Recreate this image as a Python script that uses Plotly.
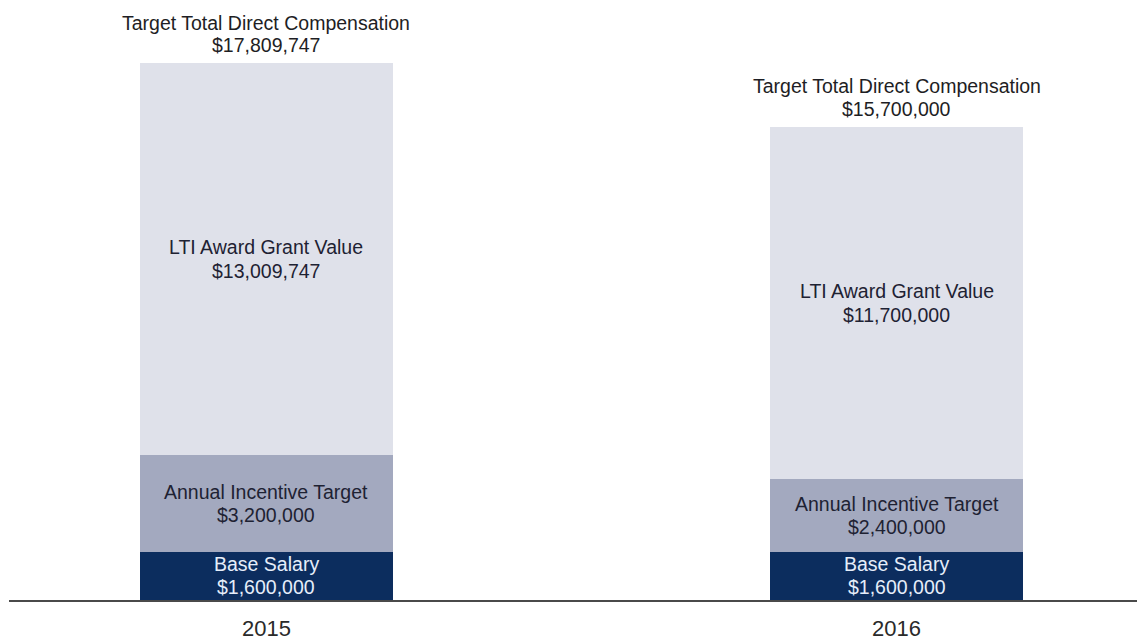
import plotly.graph_objects as go

years = ["2015", "2016"]
base_salary = [1600000, 1600000]
annual_incentive = [3200000, 2400000]
lti_award = [13009747, 11700000]

segment_names = ["Base Salary", "Annual Incentive Target", "LTI Award Grant Value"]
segment_colors = ["#0c2d5e", "#a3a9bf", "#dfe1ea"]
segment_text_colors = ["#e6eefa", "#1e2233", "#1e2233"]
total_label = "Target Total Direct Compensation"

FONT = "Liberation Sans, Arial, Helvetica, sans-serif"
FS = 19.5
xs = list(range(len(years)))
bar_w = 0.4016

fig = go.Figure()
series = [base_salary, annual_incentive, lti_award]
for name, vals, col in zip(segment_names, series, segment_colors):
    fig.add_trace(go.Bar(x=xs, y=vals, name=name, marker=dict(color=col, line=dict(width=0)),
                         width=bar_w, hoverinfo="skip"))

annotations = []
for i, x in enumerate(xs):
    bottom = 0
    for name, vals, tc in zip(segment_names, series, segment_text_colors):
        v = vals[i]
        mid = bottom + v / 2
        for txt, shift in ((name, 12), (f"${v:,.0f}", -11.5)):
            annotations.append(dict(x=x, y=mid, xref="x", yref="y", showarrow=False,
                                    text=txt, yanchor="middle", xanchor="center", yshift=shift,
                                    font=dict(family=FONT, size=FS, color=tc)))
        bottom += v
    total = sum(s[i] for s in series)
    for txt, shift in ((total_label, 40.5), (f"${total:,.0f}", 18)):
        annotations.append(dict(x=x, y=total, xref="x", yref="y", showarrow=False,
                                text=txt, yanchor="middle", xanchor="center", yshift=shift,
                                font=dict(family=FONT, size=FS, color="#1e1e24")))
    annotations.append(dict(x=x, y=0, xref="x", yref="paper", showarrow=False,
                            text=years[i], yanchor="middle", xanchor="center", yshift=-28,
                            font=dict(family=FONT, size=22, color="#2a2a2a")))

fig.update_layout(
    barmode="stack",
    width=1137, height=641,
    margin=dict(l=9, r=0, t=0, b=41),
    paper_bgcolor="white", plot_bgcolor="white",
    showlegend=False,
    annotations=annotations,
    bargap=0,
)
fig.update_xaxes(range=[-0.4087, 1.3817], tickvals=xs, showticklabels=False,
                 showgrid=False, zeroline=False, showline=True, linecolor="#4a4a4a", linewidth=2,
                 ticks="")
fig.update_yaxes(range=[0, 19900000], visible=False, showgrid=False, zeroline=False)

fig.write_html("out.html", config={"displayModeBar": False},
               post_script="document.body.style.margin='0';document.body.style.padding='0';")
